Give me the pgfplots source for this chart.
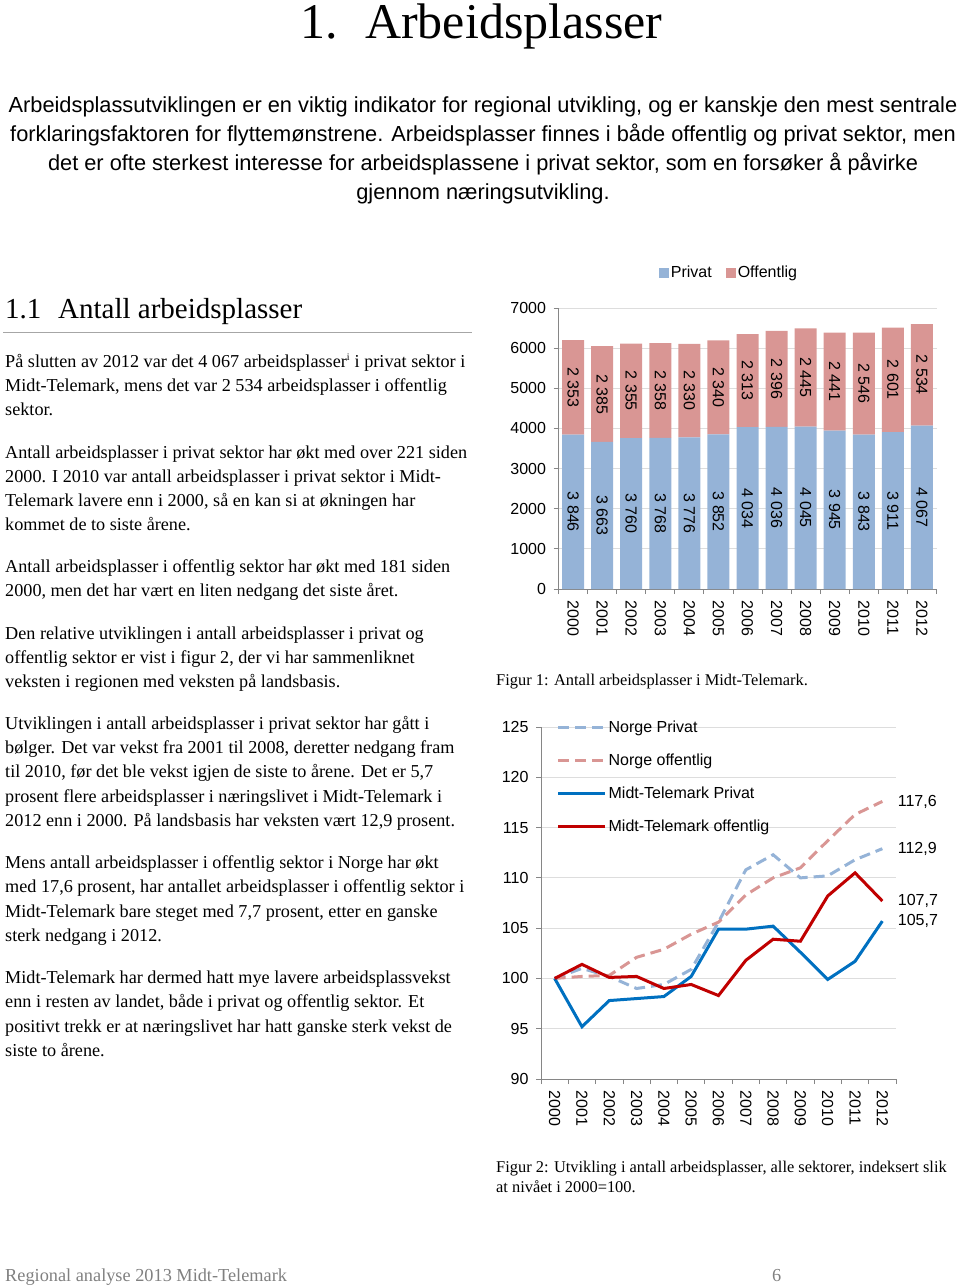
\documentclass[border=0pt]{standalone}
\usepackage{pgfplots}
\pgfplotsset{compat=1.18}
\usepackage{pgfplotstable}
\usepackage{fontspec}
\setmainfont{Liberation Serif}
\newfontfamily\arial{Liberation Sans}
\definecolor{privc}{HTML}{95B3D7}
\definecolor{offc}{HTML}{D99694}
\definecolor{mtp}{HTML}{0070C0}
\definecolor{mto}{HTML}{C00000}
\definecolor{axc}{HTML}{868686}
\definecolor{gridc}{HTML}{DDDDDD}

\pgfplotstableread{
x priv off
0 3846 2353
1 3663 2385
2 3760 2355
3 3768 2358
4 3776 2330
5 3852 2340
6 4034 2313
7 4036 2396
8 4045 2445
9 3945 2441
10 3843 2546
11 3911 2601
12 4067 2534
}\bardata

\pgfplotstableread{
x np no mp mo
0 100 100 100 100
1 101.0 100.2 95.2 101.4
2 100.2 100.3 97.8 100.1
3 99.0 102.1 98.0 100.2
4 99.4 102.9 98.2 99.0
5 100.9 104.4 100.2 99.4
6 105.6 105.6 104.9 98.3
7 110.8 108.3 104.9 101.8
8 112.3 110.0 105.2 103.9
9 110.0 111.0 102.6 103.7
10 110.2 113.7 99.9 108.2
11 111.8 116.3 101.7 110.5
12 112.9 117.6 105.7 107.7
}\linedata

\pgfplotsset{
  pagechart/.style={
    scale only axis,
    axis x line*=bottom, axis y line*=left,
    axis line style={axc, line width=0.8pt},
    xmin=-0.5, xmax=12.5,
    xtick={0,...,12},
    xticklabels={2000,2001,2002,2003,2004,2005,2006,2007,2008,2009,2010,2011,2012},
    major x tick style={draw=none},
    minor xtick={-0.5,0.5,...,12.5},
    minor x tick style={axc, line width=0.8pt},
    minor tick length=5pt,
    major tick length=5pt,
    tick align=outside,
    ytick style={axc, line width=0.8pt},
    ymajorgrids, grid style={gridc, line width=0.8pt},
    tick label style={font=\arial\fontsize{16}{18}\selectfont, text=black},
    /pgf/number format/assume math mode=true,
    yticklabel style={/pgf/number format/1000 sep={}, xshift=-4pt},
    xticklabel style={rotate=-90, anchor=west, xshift=3pt},
  }
}

\begin{document}
\begin{tikzpicture}
\useasboundingbox (0pt,0pt) rectangle (960pt,-1286pt);

% ---------- bar chart ----------
\begin{axis}[pagechart,
  at={(558.5pt,-589pt)}, anchor=south west,
  width=378pt, height=281pt,
  ymin=0, ymax=7000, ytick={0,1000,...,7000},
  ybar stacked, bar width=22pt,
  legend style={at={(0.451,1.125)}, anchor=center, draw=none, fill=none,
    legend columns=2, font=\arial\fontsize{16}{18}\selectfont,
    /tikz/every even column/.append style={column sep=12pt}},
]
\addplot[fill=privc, draw=none,
  visualization depends on={\thisrow{priv} \as \rawy},
  nodes near coords={\pgfmathprintnumber[1000 sep={\ }]{\rawy}},
  every node near coord/.append style={rotate=-90, anchor=center, font=\arial\fontsize{16}{18}\selectfont, text=black},
  legend image code/.code={\fill[privc] (0pt,-5pt) rectangle (10pt,5pt);},
] table[x=x,y=priv]{\bardata};
\addplot[fill=offc, draw=none,
  visualization depends on={\thisrow{off} \as \rawy},
  nodes near coords={\pgfmathprintnumber[1000 sep={\ }]{\rawy}},
  every node near coord/.append style={rotate=-90, anchor=center, font=\arial\fontsize{16}{18}\selectfont, text=black},
  legend image code/.code={\fill[offc] (0pt,-5pt) rectangle (10pt,5pt);},
] table[x=x,y=off]{\bardata};
\legend{Privat, Offentlig}
\end{axis}

% ---------- line chart ----------
\begin{axis}[pagechart,
  at={(541pt,-1079pt)}, anchor=south west,
  width=355pt, height=352pt,
  ymin=90, ymax=125, ytick={90,95,...,125},
  legend image code/.code={\draw[#1] (0pt,0pt) -- (47pt,0pt);},
  legend style={at={(0.035,1.03)}, anchor=north west, draw=none, fill=none,
    font=\arial\fontsize{16}{18}\selectfont, row sep=16pt},
  legend cell align=left,
]
\addplot[privc, line width=3pt, dash pattern=on 11pt off 6pt] table[x=x,y=np]{\linedata};
\addplot[offc, line width=3pt, dash pattern=on 11pt off 6pt] table[x=x,y=no]{\linedata};
\addplot[mtp, line width=3pt] table[x=x,y=mp]{\linedata};
\addplot[mto, line width=3pt] table[x=x,y=mo]{\linedata};
\legend{Norge Privat, Norge offentlig, Midt-Telemark Privat, Midt-Telemark offentlig}
\addplot[draw=none, mark=none, forget plot, nodes near coords, point meta=explicit symbolic,
  every node near coord/.append style={anchor=west, xshift=12pt, text=black, font=\arial\fontsize{16}{18}\selectfont}]
  table[x=x,y=y,meta=l]{
x y l
12 117.6 117,6
12 112.9 112,9
12 107.7 107,7
12 105.7 105,7
};
\end{axis}

% ---------- text ----------
\begin{scope}[x=1pt, y=-1pt]
\node[anchor=base west, inner sep=0, font=\fontsize{50}{56}\selectfont] at (300,38) {1.};
\node[anchor=base west, inner sep=0, font=\fontsize{50}{56}\selectfont] at (365,38) {Arbeidsplasser};

\begin{scope}[every node/.style={anchor=base, inner sep=0, font=\arial\fontsize{21.8}{24}\selectfont}]
\node at (483,112) {Arbeidsplassutviklingen er en viktig indikator for regional utvikling, og er kanskje den mest sentrale};
\node at (483,141) {forklaringsfaktoren for flyttemønstrene. Arbeidsplasser finnes i både offentlig og privat sektor, men};
\node at (483,170) {det er ofte sterkest interesse for arbeidsplassene i privat sektor, som en forsøker å påvirke};
\node at (483,199) {gjennom næringsutvikling.};
\end{scope}

\node[anchor=base west, inner sep=0, font=\fontsize{29}{33}\selectfont] at (5,318) {1.1};
\node[anchor=base west, inner sep=0, font=\fontsize{29}{33}\selectfont] at (58,318) {Antall arbeidsplasser};
\draw[gray!70, line width=0.8pt] (3,332) -- (472,332);

\begin{scope}[every node/.style={anchor=base west, inner sep=0, font=\fontsize{18.2}{21}\selectfont}]
\node at (5,367) {På slutten av 2012 var det 4 067 arbeidsplasser\textsuperscript{\fontsize{10}{10}\selectfont i} i privat sektor i};
\node at (5,391) {Midt-Telemark, mens det var 2 534 arbeidsplasser i offentlig};
\node at (5,415) {sektor.};
\node at (5,458) {Antall arbeidsplasser i privat sektor har økt med over 221 siden};
\node at (5,482) {2000. I 2010 var antall arbeidsplasser i privat sektor i Midt-};
\node at (5,506) {Telemark lavere enn i 2000, så en kan si at økningen har};
\node at (5,530) {kommet de to siste årene.};
\node at (5,572) {Antall arbeidsplasser i offentlig sektor har økt med 181 siden};
\node at (5,596) {2000, men det har vært en liten nedgang det siste året.};
\node at (5,639) {Den relative utviklingen i antall arbeidsplasser i privat og};
\node at (5,663) {offentlig sektor er vist i figur 2, der vi har sammenliknet};
\node at (5,687) {veksten i regionen med veksten på landsbasis.};
\node at (5,729) {Utviklingen i antall arbeidsplasser i privat sektor har gått i};
\node at (5,753) {bølger. Det var vekst fra 2001 til 2008, deretter nedgang fram};
\node at (5,777) {til 2010, før det ble vekst igjen de siste to årene. Det er 5,7};
\node at (5,802) {prosent flere arbeidsplasser i næringslivet i Midt-Telemark i};
\node at (5,826) {2012 enn i 2000. På landsbasis har veksten vært 12,9 prosent.};
\node at (5,868) {Mens antall arbeidsplasser i offentlig sektor i Norge har økt};
\node at (5,892) {med 17,6 prosent, har antallet arbeidsplasser i offentlig sektor i};
\node at (5,917) {Midt-Telemark bare steget med 7,7 prosent, etter en ganske};
\node at (5,941) {sterk nedgang i 2012.};
\node at (5,983) {Midt-Telemark har dermed hatt mye lavere arbeidsplassvekst};
\node at (5,1007) {enn i resten av landet, både i privat og offentlig sektor. Et};
\node at (5,1032) {positivt trekk er at næringslivet har hatt ganske sterk vekst de};
\node at (5,1056) {siste to årene.};
\end{scope}

\begin{scope}[every node/.style={anchor=base west, inner sep=0, font=\fontsize{16.4}{19}\selectfont}]
\node at (496,685) {Figur 1: Antall arbeidsplasser i Midt-Telemark.};
\node at (496,1172) {Figur 2: Utvikling i antall arbeidsplasser, alle sektorer, indeksert slik};
\node at (496,1192) {at nivået i 2000=100.};
\node[text=gray] at (5,1281) {\fontsize{18.3}{20}\selectfont Regional analyse 2013 Midt-Telemark};
\node[text=gray] at (772,1281) {\fontsize{18.3}{20}\selectfont 6};
\end{scope}
\end{scope}
\end{tikzpicture}
\end{document}
